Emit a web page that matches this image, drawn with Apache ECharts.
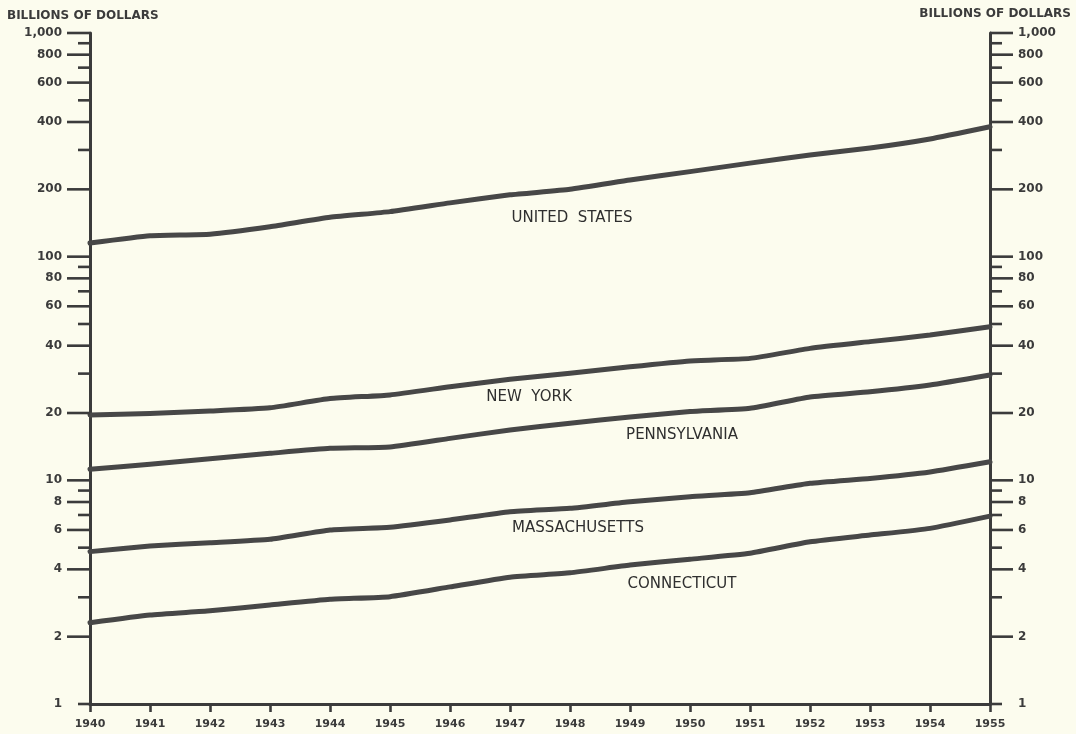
<!DOCTYPE html>
<html>
<head>
<meta charset="utf-8">
<title>Income payments, 1940-1955</title>
<script src="https://cdn.jsdelivr.net/npm/echarts/dist/echarts.min.js"></script>
<style>
  html, body { margin: 0; padding: 0; background: #fcfcee; }
  #chart { width: 1076px; height: 734px; }
</style>
</head>
<body>
<div id="chart"></div>
<script>
// Years on the horizontal axis
const years = [1940, 1941, 1942, 1943, 1944, 1945, 1946, 1947, 1948, 1949, 1950, 1951, 1952, 1953, 1954, 1955];

// Values in billions of dollars
const unitedStates  = [115, 124, 126, 136, 150, 159, 174, 189, 200, 220, 240, 262, 285, 306, 336, 381];
const newYork       = [19.6, 19.9, 20.4, 21.1, 23.2, 24.1, 26.2, 28.3, 30.1, 32.2, 34.2, 35.1, 38.9, 41.7, 44.6, 48.6];
const pennsylvania  = [11.2, 11.8, 12.5, 13.2, 13.9, 14.1, 15.4, 16.8, 18.0, 19.2, 20.3, 21.0, 23.6, 24.9, 26.7, 29.6];
const massachusetts = [4.80, 5.09, 5.26, 5.45, 6.00, 6.17, 6.65, 7.24, 7.50, 8.02, 8.45, 8.80, 9.70, 10.2, 10.9, 12.1];
const connecticut   = [2.31, 2.50, 2.61, 2.77, 2.94, 3.02, 3.34, 3.69, 3.86, 4.18, 4.44, 4.72, 5.31, 5.69, 6.10, 6.92];

const seriesNames = ['UNITED  STATES', 'NEW  YORK', 'PENNSYLVANIA', 'MASSACHUSETTS', 'CONNECTICUT'];

// Ratio-scale ticks on both vertical axes
const yMajorTicks = [2, 4, 6, 8, 10, 20, 40, 60, 80, 100, 200, 400, 600, 800, 1000];
const yMinorTicks = [1, 3, 5, 7, 9, 30, 50, 70, 90, 300, 500, 700, 900];
const yLabelValues = [1, 2, 4, 6, 8, 10, 20, 40, 60, 80, 100, 200, 400, 600, 800, 1000];
const yLabelTexts  = ['1', '2', '4', '6', '8', '10', '20', '40', '60', '80', '100', '200', '400', '600', '800', '1,000'];

const unitTitle = 'BILLIONS OF DOLLARS';

const INK = '#3b3b3b';
const LINE_INK = '#474747';

const chart = echarts.init(document.getElementById('chart'), null, { renderer: 'canvas' });

const pair = (vals) => years.map((y, i) => [y, vals[i]]);

const lineSeries = [unitedStates, newYork, pennsylvania, massachusetts, connecticut].map((vals, i) => ({
  type: 'line',
  name: seriesNames[i],
  data: pair(vals),
  showSymbol: false,
  smooth: 0.15,
  lineStyle: { color: LINE_INK, width: 5, cap: 'round', join: 'round' },
  silent: true,
  z: 3
}));

// Tick marks drawn outward from the left and right axes
const tickData = yMajorTicks.map(v => [years[0], v, 1]).concat(yMinorTicks.map(v => [years[0], v, 0]));
const tickSeries = {
  type: 'custom',
  silent: true,
  clip: false,
  z: 4,
  data: tickData,
  renderItem: function (params, api) {
    const v = api.value(1);
    const len = api.value(2) ? 23 : 12;
    const L = api.coord([years[0], v]);
    const R = api.coord([years[years.length - 1], v]);
    const st = { stroke: INK, lineWidth: 2.6 };
    return {
      type: 'group',
      children: [
        { type: 'line', shape: { x1: L[0] - len, y1: L[1], x2: L[0], y2: L[1] }, style: st },
        { type: 'line', shape: { x1: R[0], y1: R[1], x2: R[0] + len, y2: R[1] }, style: st }
      ]
    };
  }
};

// Tick labels on both sides
const labelSeries = {
  type: 'custom',
  silent: true,
  clip: false,
  z: 4,
  data: yLabelValues.map((v, i) => [years[0], v, i]),
  renderItem: function (params, api) {
    const v = api.value(1);
    const txt = yLabelTexts[api.value(2)];
    const L = api.coord([years[0], v]);
    const R = api.coord([years[years.length - 1], v]);
    const font = 'bold 12px "DejaVu Sans"';
    return {
      type: 'group',
      children: [
        { type: 'text', x: L[0] - 28, y: L[1], style: { text: txt, align: 'right', verticalAlign: 'middle', font: font, fill: INK } },
        { type: 'text', x: R[0] + 28, y: R[1], style: { text: txt, align: 'left', verticalAlign: 'middle', font: font, fill: INK } }
      ]
    };
  }
};

const labelFont = '15px "DejaVu Sans"';
const seriesLabelPlaces = [
  [572, 218], [529, 397], [682, 435], [578, 528], [682, 584]
];

const option = {
  animation: false,
  backgroundColor: '#fcfcee',
  grid: { left: 90, right: 86, top: 33, bottom: 30, containLabel: false },
  xAxis: {
    type: 'value',
    min: 1940,
    max: 1955,
    interval: 1,
    axisLine: { show: true, onZero: false, lineStyle: { color: INK, width: 3 } },
    axisTick: { show: true, length: 8, lineStyle: { color: INK, width: 2.6 } },
    axisLabel: {
      formatter: v => String(v),
      margin: 15,
      color: INK,
      fontFamily: 'DejaVu Sans',
      fontWeight: 'bold',
      fontSize: 11
    },
    splitLine: { show: false }
  },
  yAxis: [
    {
      type: 'log', logBase: 10, min: 1, max: 1000, position: 'left',
      axisLine: { show: true, lineStyle: { color: INK, width: 3 } },
      axisTick: { show: false }, axisLabel: { show: false }, splitLine: { show: false }, minorTick: { show: false }
    },
    {
      type: 'log', logBase: 10, min: 1, max: 1000, position: 'right',
      axisLine: { show: true, lineStyle: { color: INK, width: 3 } },
      axisTick: { show: false }, axisLabel: { show: false }, splitLine: { show: false }, minorTick: { show: false }
    }
  ],
  graphic: [
    { type: 'text', x: 7, y: 16, style: { text: unitTitle, align: 'left', verticalAlign: 'middle', font: 'bold 12px "DejaVu Sans"', fill: INK } },
    { type: 'text', x: 1071, y: 14, style: { text: unitTitle, align: 'right', verticalAlign: 'middle', font: 'bold 12px "DejaVu Sans"', fill: INK } }
  ].concat(seriesNames.map((name, i) => ({
    type: 'text',
    x: seriesLabelPlaces[i][0],
    y: seriesLabelPlaces[i][1],
    style: { text: name, align: 'center', verticalAlign: 'middle', font: labelFont, fill: '#2f2f2f' }
  }))),
  series: lineSeries.concat([tickSeries, labelSeries])
};

chart.setOption(option);
</script>
</body>
</html>
